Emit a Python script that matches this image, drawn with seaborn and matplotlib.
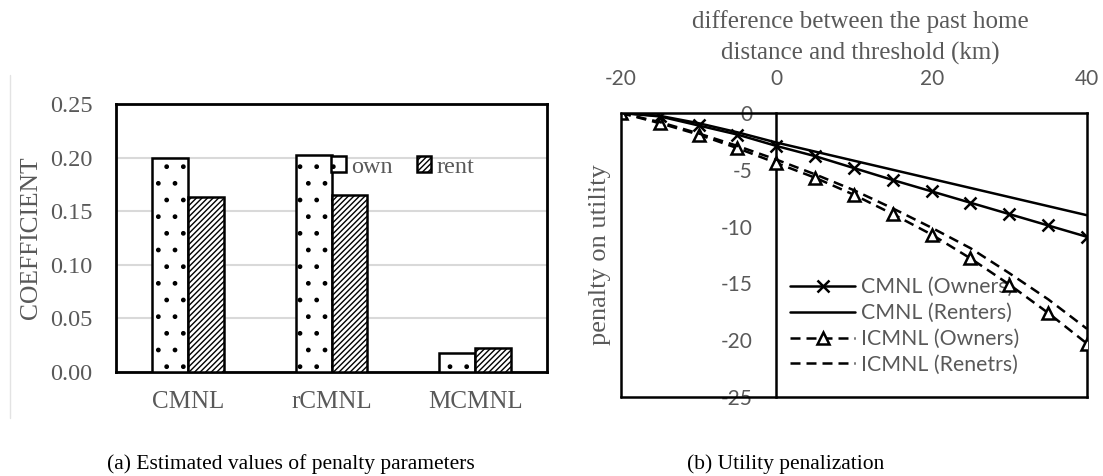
import numpy as np
import pandas as pd
import matplotlib
matplotlib.use("Agg")
import matplotlib.pyplot as plt
from matplotlib.lines import Line2D
from matplotlib.ticker import FormatStrFormatter
import seaborn as sns

# ---------------- data ----------------
categories = ["CMNL", "rCMNL", "MCMNL"]
own_coef = [0.200, 0.202, 0.018]
rent_coef = [0.163, 0.165, 0.022]
tenure_labels = ["own", "rent"]

dist = [-20, -15, -10, -5, 0, 5, 10, 15, 20, 25, 30, 35, 40]
cmnl_owners = [0, -0.3, -1.1, -1.9, -2.9, -3.8, -4.85, -5.9, -6.9, -7.9, -8.9, -9.9, -10.9]
cmnl_renters = [0, -0.25, -0.9, -1.7, -2.6, -3.4, -4.2, -5.0, -5.8, -6.6, -7.4, -8.2, -9.0]
icmnl_owners = [0, -0.9, -1.9, -3.1, -4.4, -5.7, -7.2, -8.9, -10.7, -12.8, -15.1, -17.6, -20.3]
icmnl_renters = [0, -0.8, -1.8, -2.9, -4.1, -5.4, -6.8, -8.4, -10.1, -11.9, -14.1, -16.4, -19.0]
series_labels = ["CMNL (Owners)", "CMNL (Renters)", "ICMNL (Owners)", "ICMNL (Renetrs)"]

y_ticks_left = [0.00, 0.05, 0.10, 0.15, 0.20, 0.25]
x_ticks_right = [-20, 0, 20, 40]
y_ticks_right = [0, -5, -10, -15, -20, -25]

# ---------------- style ----------------
sns.set_theme(style="white")
plt.rcParams["font.family"] = ["Liberation Serif", "DejaVu Serif"]
plt.rcParams["hatch.linewidth"] = 1.0
plt.rcParams["axes.unicode_minus"] = False
GRAY = "#595959"
SANS = ["Lato", "DejaVu Sans"]
W, H = 1103, 476

fig = plt.figure(figsize=(W / 100, H / 100), dpi=100)

# ---------------- left: bar chart ----------------
ax1 = fig.add_axes([116 / W, 1 - 372 / H, 431 / W, 268 / H])
df1 = pd.DataFrame({
    "model": categories * 2,
    "tenure": [tenure_labels[0]] * len(categories) + [tenure_labels[1]] * len(categories),
    "coef": own_coef + rent_coef,
})
sns.barplot(data=df1, x="model", y="coef", hue="tenure", palette=["white", "white"],
            saturation=1, edgecolor="black", linewidth=1.8, width=0.5, ax=ax1,
            legend=False, zorder=3)
for cont, h in zip(ax1.containers, [".", "//////"]):
    for bar in cont:
        bar.set_hatch(h)
        bar.set_edgecolor("black")

ax1.set_ylim(0, 0.25)
ax1.set_xlim(-0.5, 2.5)
ax1.set_yticks(y_ticks_left)
ax1.yaxis.set_major_formatter(FormatStrFormatter("%.2f"))
ax1.yaxis.grid(True, color="#d9d9d9", linewidth=1.5)
ax1.set_axisbelow(True)
for s in ax1.spines.values():
    s.set_visible(True)
    s.set_color("black")
    s.set_linewidth(2)
ax1.tick_params(axis="both", length=0, labelcolor=GRAY)
ax1.tick_params(axis="y", pad=17, labelsize=17.5)
ax1.tick_params(axis="x", pad=14, labelsize=18)
ax1.set_xlabel("")
ax1.set_ylabel("COEFFICIENT", fontsize=18.4, color=GRAY, labelpad=0)
ax1.yaxis.set_label_coords(-0.172, 0.5)

handles = [ax1.containers[0][0], ax1.containers[1][0]]
leg1 = ax1.legend(handles, tenure_labels, ncol=2, loc="center",
                  bbox_to_anchor=(0.665, 0.765), frameon=False, fontsize=17.5,
                  handlelength=0.6, handleheight=0.6, handletextpad=0.2,
                  columnspacing=1.0, labelcolor=GRAY)

# ---------------- right: line chart ----------------
ax2 = fig.add_axes([621 / W, 1 - 397 / H, 466 / W, 284 / H])
sns.lineplot(x=dist, y=cmnl_owners, ax=ax2, color="black", marker="x",
             markersize=9, markeredgewidth=1.8, markeredgecolor="black",
             linewidth=1.8, label=series_labels[0], zorder=4)
sns.lineplot(x=dist, y=cmnl_renters, ax=ax2, color="black", linewidth=1.8,
             label=series_labels[1], zorder=4)
sns.lineplot(x=dist, y=icmnl_owners, ax=ax2, color="black", marker="^",
             markersize=9, markerfacecolor="white", markeredgecolor="black",
             markeredgewidth=1.8, linewidth=1.8, linestyle="--",
             label=series_labels[2], zorder=4)
sns.lineplot(x=dist, y=icmnl_renters, ax=ax2, color="black", linewidth=1.8,
             linestyle="--", label=series_labels[3], zorder=4)
for ln in ax2.lines:
    if ln.get_linestyle() == "--":
        ln.set_dashes((4, 2.4))

ax2.set_xlim(-20, 40)
ax2.set_ylim(-25, 0)
ax2.xaxis.tick_top()
ax2.set_xticks(x_ticks_right)
ax2.set_yticks(y_ticks_right)
ax2.spines["left"].set_position(("data", 0))
for s in ax2.spines.values():
    s.set_visible(True)
    s.set_color("black")
    s.set_linewidth(1.8)
ax2.axvline(-20, color="black", linewidth=1.8, clip_on=False, zorder=5)
ax2.tick_params(axis="both", length=0, labelsize=15, labelcolor=GRAY)
ax2.tick_params(axis="x", pad=17)
ax2.tick_params(axis="y", pad=17)
for t in ax2.get_xticklabels() + ax2.get_yticklabels():
    t.set_family(SANS)
ax2.set_xlabel("")
ax2.set_ylabel("penalty on utility", fontsize=19, color=GRAY)
ax2.yaxis.set_label_coords(-0.022, 0.5)

leg2 = ax2.legend(loc="center left", bbox_to_anchor=(0.363, 0.25), frameon=False,
                  handlelength=3.05, labelspacing=0.28, borderpad=0, borderaxespad=0,
                  handletextpad=0.3, labelcolor=GRAY, prop={"family": SANS, "size": 15.3})
leg2.set_zorder(2)
for lh in leg2.get_lines():
    if lh.get_linestyle() == "--":
        lh.set_dashes((4, 2.4))

fig.text(860 / W, 1 - 22 / H, "difference between the past home", ha="center", va="center",
         fontsize=18, color=GRAY)
fig.text(860 / W, 1 - 53 / H, "distance and threshold (km)", ha="center", va="center",
         fontsize=18, color=GRAY)

# captions
fig.text(291 / W, 1 - 464 / H, "(a) Estimated values of penalty parameters", ha="center",
         va="center", fontsize=15.5, color="black")
fig.text(786 / W, 1 - 464 / H, "(b) Utility penalization", ha="center",
         va="center", fontsize=15.5, color="black")

fig.add_artist(Line2D([10 / W, 10 / W], [1 - 75 / H, 1 - 418 / H], color="#e3e3e3", linewidth=1))

fig.savefig("out.png", dpi=100)
